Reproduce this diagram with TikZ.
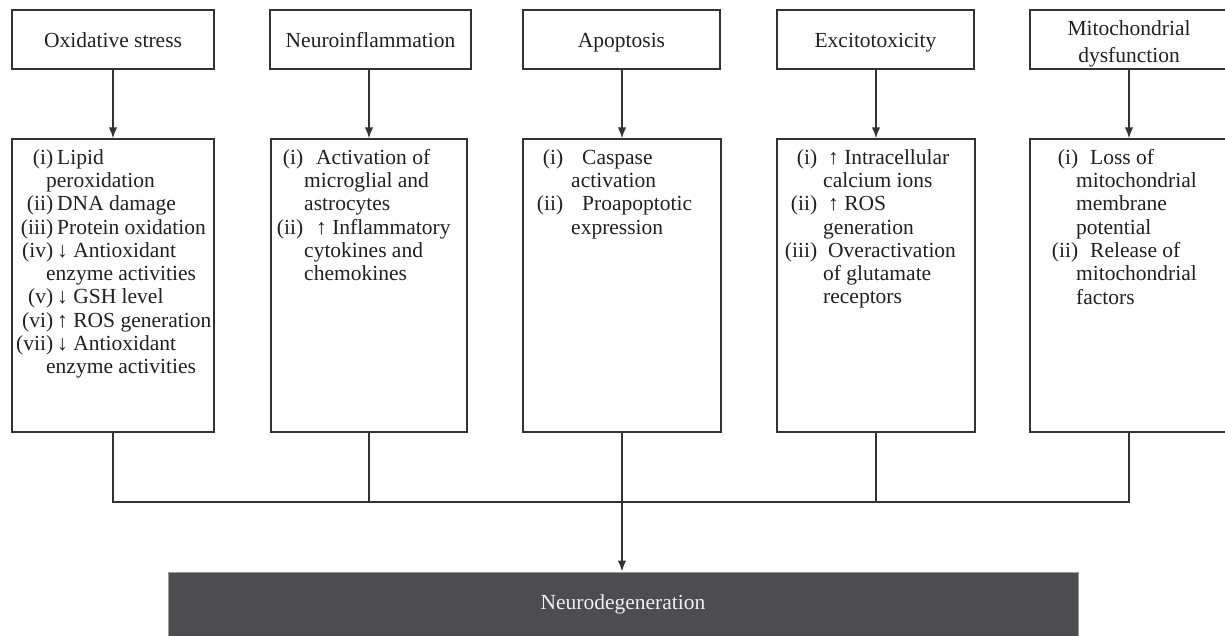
\documentclass[tikz,border=0pt]{standalone}
\usepackage{fontspec}
\setmainfont{Liberation Serif}
\usetikzlibrary{arrows.meta}
\definecolor{edge}{HTML}{333333}
\definecolor{ink}{HTML}{231F20}
\definecolor{darkfill}{HTML}{4D4D4F}
\newcommand{\setcols}[3]{\gdef\colLW{#1}\gdef\colGap{#2}\gdef\colCI{#3}}
\newcommand{\itm}[1]{\makebox[\colLW][r]{#1}\hspace{\colGap}}
\newcommand{\cnt}{\hspace*{\colCI}}
\begin{document}
\begin{tikzpicture}[x=1pt,y=-1pt,
  box/.style={draw=edge, line width=1.4pt, rectangle, inner sep=0pt, text=ink,
    font=\fontsize{21.5}{28}\selectfont, align=center},
  headbox/.style={box, text height=20pt, text depth=5pt},
  conn/.style={draw=edge, line width=1.5pt},
  arr/.style={conn, -{Latex[length=11pt,width=8.5pt]}},
  txt/.style={font=\fontsize{21.5}{23.3}\selectfont, text=ink, inner sep=0pt,
    align=left, anchor=north west},
  ]
\useasboundingbox (0,0) rectangle (1225,635);
% top boxes
\node[headbox, minimum width=202, minimum height=59] (t1) at (113,39.5) {Oxidative stress};
\node[headbox, minimum width=201, minimum height=59] (t2) at (370.5,39.5) {Neuroinflammation};
\node[headbox, minimum width=197, minimum height=59] (t3) at (621.5,39.5) {Apoptosis};
\node[headbox, minimum width=197, minimum height=59] (t4) at (875.5,39.5) {Excitotoxicity};
\node[box, minimum width=198, minimum height=59] (t5) at (1129,39.5)
  {\raisebox{-4pt}[\height][\depth]{\begin{tabular}{@{}c@{}}Mitochondrial\\[-1pt]dysfunction\end{tabular}}};
% lower boxes
\node[box, minimum width=202, minimum height=293] (l1) at (113,285.5) {};
\node[box, minimum width=196, minimum height=293] (l2) at (369,285.5) {};
\node[box, minimum width=198, minimum height=293] (l3) at (622,285.5) {};
\node[box, minimum width=198, minimum height=293] (l4) at (876,285.5) {};
\node[box, minimum width=198, minimum height=293] (l5) at (1129,285.5) {};
% arrows top -> lower
\foreach \k in {1,...,5}{
  \draw[arr] (l\k.north |- t\k.south) -- (l\k.north);
}
% texts
\setcols{41pt}{4pt}{34pt}
\node[txt] (x1) at (12,149) {\itm{(i)}Lipid\\
\cnt peroxidation\\
\itm{(ii)}DNA damage\\
\itm{(iii)}Protein oxidation\\
\itm{(iv)}↓ Antioxidant\\
\cnt enzyme activities\\
\itm{(v)}↓ GSH level\\
\itm{(vi)}↑ ROS generation\\
\itm{(vii)}↓ Antioxidant\\
\cnt enzyme activities};
\setcols{32pt}{13pt}{33pt}
\node[txt] (x2) at (271,149) {\itm{(i)}Activation of\\
\cnt microglial and\\
\cnt astrocytes\\
\itm{(ii)}↑ Inflammatory\\
\cnt cytokines and\\
\cnt chemokines};
\setcols{39pt}{19pt}{47pt}
\node[txt] (x3) at (524,149) {\itm{(i)}Caspase\\
\cnt activation\\
\itm{(ii)}Proapoptotic\\
\cnt expression};
\setcols{40pt}{11pt}{46pt}
\node[txt] (x4) at (777,149) {\itm{(i)}↑ Intracellular\\
\cnt calcium ions\\
\itm{(ii)}↑ ROS\\
\cnt generation\\
\itm{(iii)}Overactivation\\
\cnt of glutamate\\
\cnt receptors};
\setcols{47pt}{12pt}{45pt}
\node[txt] (x5) at (1031,149) {\itm{(i)}Loss of\\
\cnt mitochondrial\\
\cnt membrane\\
\cnt potential\\
\itm{(ii)}Release of\\
\cnt mitochondrial\\
\cnt factors};
% bottom box
\node[draw=black!40, line width=1pt, fill=darkfill, rectangle, inner sep=0pt,
  minimum width=910, minimum height=64, text=white!94!black,
  text height=15pt, text depth=5pt,
  font=\fontsize{21.5}{25}\selectfont] (nd) at (623,604) {Neurodegeneration};
% junction
\coordinate (jl) at (113,502);
\coordinate (jr) at (1129,502);
\draw[conn] (l1.south) -- (l1.south |- jl) -- (jr) -- (l5.south);
\draw[conn] (l2.south) -- (l2.south |- jl);
\draw[conn] (l3.south) -- (l3.south |- jl);
\draw[conn] (l4.south) -- (l4.south |- jl);
\draw[arr] (l3.south |- jl) -- (nd.north -| l3.south);
\end{tikzpicture}
\end{document}
